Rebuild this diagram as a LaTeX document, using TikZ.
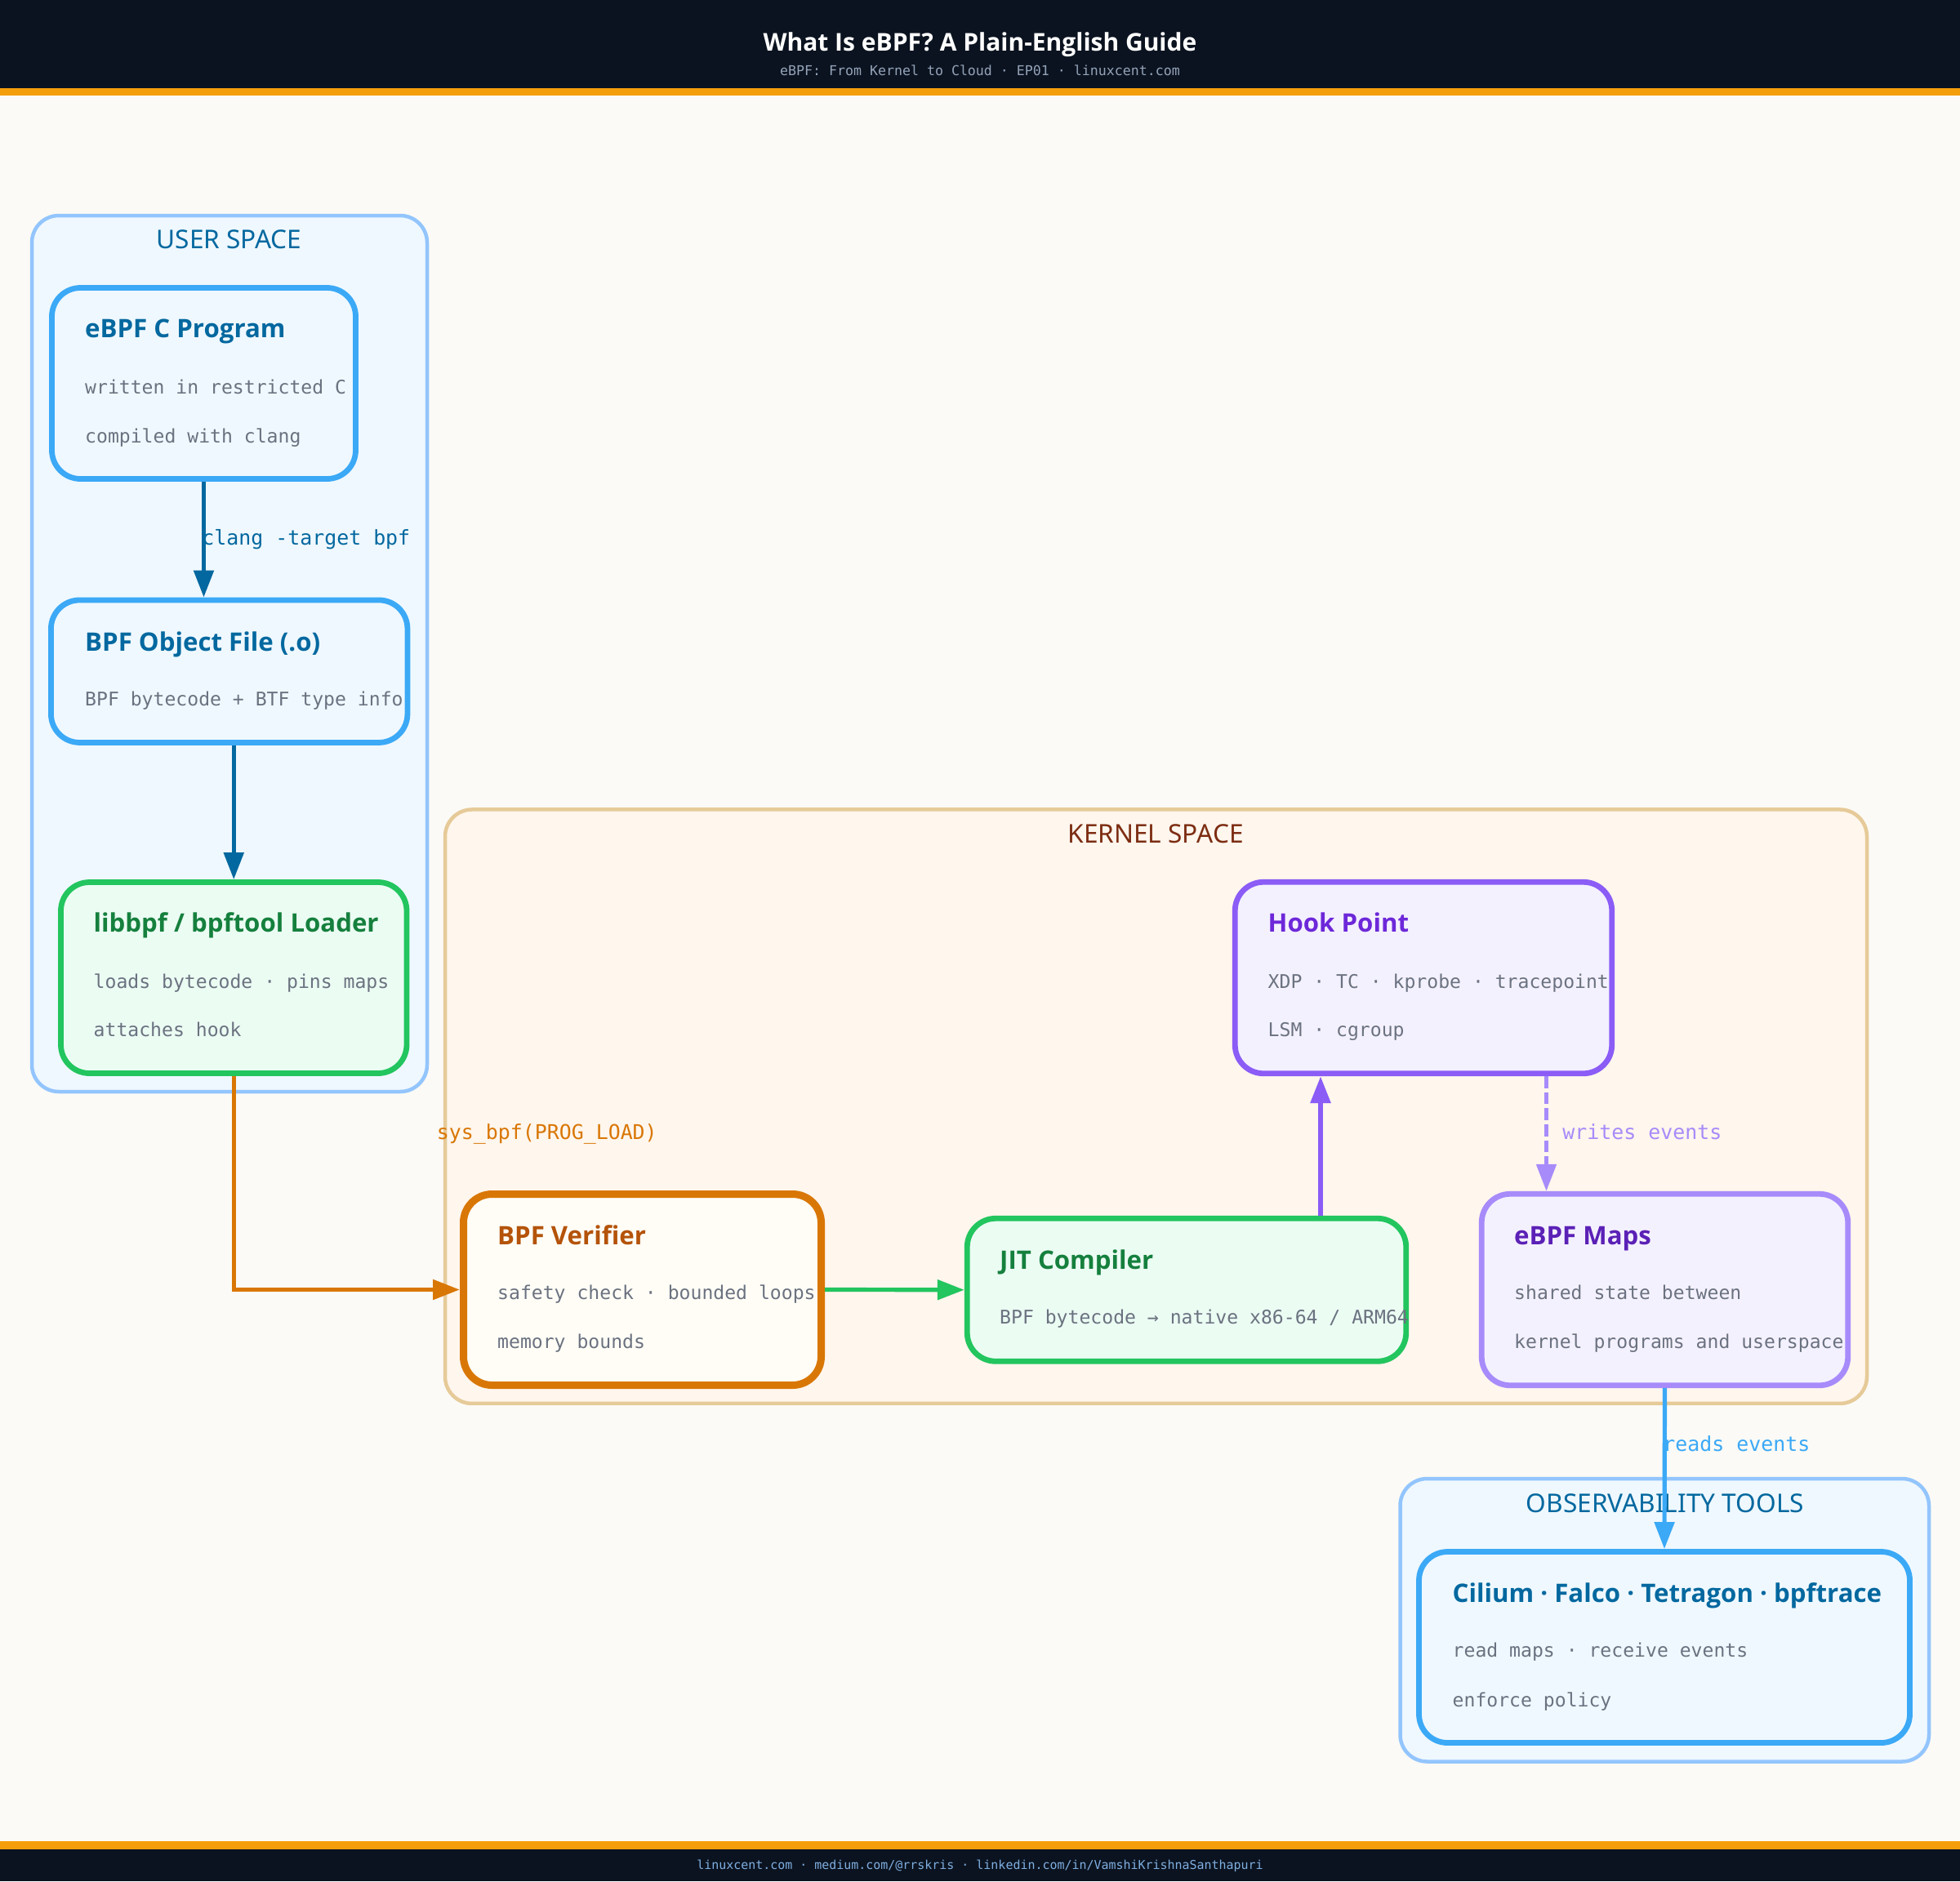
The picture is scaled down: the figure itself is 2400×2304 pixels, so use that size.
\documentclass[tikz,border=0pt]{standalone}
\usepackage{fontspec}
\setmainfont{Noto Sans}
\newfontfamily\boldsans{Open Sans}
\setmonofont{DejaVu Sans Mono}
\usetikzlibrary{arrows.meta,calc}
\definecolor{bgc}{HTML}{FBFAF6}
\definecolor{darkc}{HTML}{0B1320}
\definecolor{amberc}{HTML}{F59E0B}
\definecolor{skyl}{HTML}{93C5FD}
\definecolor{skyf}{HTML}{EFF8FF}
\definecolor{skys}{HTML}{3BA9F6}
\definecolor{skyt}{HTML}{03689F}
\definecolor{grnf}{HTML}{EBFCF3}
\definecolor{grns}{HTML}{22C55E}
\definecolor{grnt}{HTML}{15803D}
\definecolor{orgs}{HTML}{D97706}
\definecolor{orgf}{HTML}{FFFDF6}
\definecolor{orgt}{HTML}{B45309}
\definecolor{kerf}{HTML}{FFF6ED}
\definecolor{kers}{HTML}{E6CA98}
\definecolor{kert}{HTML}{7C2D12}
\definecolor{purs}{HTML}{8B5CF6}
\definecolor{purf}{HTML}{F4F1FF}
\definecolor{purt}{HTML}{6D28D9}
\definecolor{lavs}{HTML}{A78BFA}
\definecolor{lavt}{HTML}{5B21B6}
\definecolor{greyt}{HTML}{6B7280}
\definecolor{subt}{HTML}{94A3B8}
\definecolor{foott}{HTML}{7FAEE0}
\tikzset{
  wh/.style 2 args={minimum width=#1*0.5pt,minimum height=#2*0.5pt},
  boxbase/.style={rectangle,rounded corners=17.5pt,inner sep=0pt},
  cluster/.style={boxbase,line width=2.25pt,rounded corners=16.5pt},
  clusterblue/.style={cluster,draw=skyl,fill=skyf},
  clusterkern/.style={cluster,draw=kers,fill=kerf},
  nblue/.style={boxbase,line width=3.4pt,draw=skys,fill=skyf},
  ngreen/.style={boxbase,line width=3.4pt,draw=grns,fill=grnf},
  norange/.style={boxbase,line width=4.5pt,draw=orgs,fill=orgf},
  npurple/.style={boxbase,line width=3.4pt,draw=purs,fill=purf},
  nlav/.style={boxbase,line width=3.4pt,draw=lavs,fill=purf},
  txt/.style={inner sep=0pt,anchor=base west},
  ctitle/.style={inner sep=0pt,anchor=base,font=\fontsize{15.8pt}{19pt}\selectfont},
  ntitle/.style={txt,xshift=-0.6pt,font=\boldsans\fontsize{15.6pt}{18pt}\selectfont\bfseries},
  nline/.style={txt,xshift=-0.6pt,text=greyt,font=\ttfamily\fontsize{11.55pt}{14pt}\selectfont},
  elabel/.style={txt,font=\ttfamily\fontsize{12.45pt}{15pt}\selectfont},
  conn/.style={line width=2.4pt,-{Triangle[length=16.5pt,width=12pt]}},
}
\begin{document}
\begin{tikzpicture}[x=0.5pt,y=-0.5pt]
\useasboundingbox (0,0) rectangle (2400,2304);
\fill[bgc] (0,0) rectangle (2400,2304);
% header and footer
\fill[darkc] (0,0) rectangle (2400,108);
\fill[amberc] (0,108) rectangle (2400,117);
\fill[darkc] (0,2264.5) rectangle (2400,2304);
\fill[amberc] (0,2255) rectangle (2400,2264.5);
\node[inner sep=0pt,anchor=base,text=white,font=\boldsans\fontsize{15pt}{18pt}\selectfont\bfseries] (title) at (1200,62) {What Is eBPF? A Plain-English Guide};
\node[inner sep=0pt,anchor=base,text=subt,font=\ttfamily\fontsize{8.3pt}{10pt}\selectfont] (subtitle) at (1200,92) {eBPF: From Kernel to Cloud · EP01 · linuxcent.com};
\node[inner sep=0pt,anchor=base,text=foott,font=\ttfamily\fontsize{7.48pt}{9pt}\selectfont] (footer) at (1200,2289) {linuxcent.com · medium.com/@rrskris · linkedin.com/in/VamshiKrishnaSanthapuri};
% clusters
\node[clusterblue,wh={484}{1073}] (user) at (281,800.5) {};
\node[clusterkern,wh={1741}{727.5}] (kernel) at (1415.5,1355.2) {};
\node[clusterblue,wh={647.5}{346.5}] (obs) at (2038.25,1984.25) {};
\node[ctitle,text=skyt] (usert) at (280.5,304) {USER SPACE};
\node[ctitle,text=kert] (kernelt) at (1415,1032) {KERNEL SPACE};
\node[ctitle,text=skyt] (obst) at (2039,1852) {OBSERVABILITY TOOLS};
% edge labels
\node[elabel,text=skyt] (l1) at (247,667) {clang -target bpf};
\node[elabel,text=orgs] (l2) at (534.5,1395) {sys\_bpf(PROG\_LOAD)};
\node[elabel,text=lavs] (l3) at (1913,1395) {writes events};
\node[elabel,text=skys] (l4) at (2036,1777) {reads events};
% boxes
\node[nblue,wh={372}{234}] (cprog) at (249.5,469.5) {};
\node[nblue,wh={436.5}{174.5}] (obj) at (280.7,822.2) {};
\node[ngreen,wh={423.5}{234}] (loader) at (286.25,1197.5) {};
\node[npurple,wh={461.5}{234.5}] (hook) at (1743,1197.5) {};
\node[norange,wh={438}{234}] (verifier) at (786.5,1579.5) {};
\node[ngreen,wh={537.5}{175}] (jit) at (1453,1579.75) {};
\node[nlav,wh={448.5}{234.5}] (maps) at (2038.5,1579.5) {};
\node[nblue,wh={601}{234}] (cilium) at (2038,2017.5) {};
% connectors
\coordinate (jitx) at (1617,0);
\coordinate (dashx) at (1893.5,0);
\draw[conn,draw=skyt,line width=2.6pt] (cprog.south) -- (cprog.south |- obj.north);
\draw[conn,draw=skyt,line width=2.6pt] (loader.north |- obj.south) -- (loader.north);
\draw[conn,draw=orgs,line width=2.7pt] (loader.south) |- (verifier.west);
\draw[conn,draw=grns,line width=2.6pt] (verifier.east) -- (jit.west);
\draw[conn,draw=purs,line width=3pt] (jit.north -| jitx) -- (hook.south -| jitx);
\draw[conn,draw=lavs,dash pattern=on 7.3pt off 2.5pt] (hook.south -| dashx) -- (maps.north -| dashx);
\draw[conn,draw=skys,line width=2.6pt] (maps.south) -- (cilium.north);
% box texts
\node[ntitle,text=skyt] (t1) at (105,413) {eBPF C Program};
\node[nline] (t1a) at (105,482) {written in restricted C};
\node[nline] (t1b) at (105,542) {compiled with clang};
\node[ntitle,text=skyt] (t2) at (105,797) {BPF Object File (.o)};
\node[nline] (t2a) at (105,864) {BPF bytecode + BTF type info};
\node[ntitle,text=grnt] (t3) at (115.5,1141.5) {libbpf / bpftool Loader};
\node[nline] (t3a) at (115.5,1210) {loads bytecode · pins maps};
\node[nline] (t3b) at (115.5,1269) {attaches hook};
\node[ntitle,text=purt] (t4) at (1553.5,1141.5) {Hook Point};
\node[nline] (t4a) at (1553.5,1210) {XDP · TC · kprobe · tracepoint};
\node[nline] (t4b) at (1553.5,1269) {LSM · cgroup};
\node[ntitle,text=orgt] (t5) at (610,1524) {BPF Verifier};
\node[nline] (t5a) at (610,1591.5) {safety check · bounded loops};
\node[nline] (t5b) at (610,1651) {memory bounds};
\node[ntitle,text=grnt] (t6) at (1225,1554.5) {JIT Compiler};
\node[nline] (t6a) at (1225,1621) {BPF bytecode → native x86-64 / ARM64};
\node[ntitle,text=lavt] (t7) at (1855,1524) {eBPF Maps};
\node[nline] (t7a) at (1855,1591.5) {shared state between};
\node[nline] (t7b) at (1855,1651) {kernel programs and userspace};
\node[ntitle,text=skyt] (t8) at (1779.5,1962) {Cilium · Falco · Tetragon · bpftrace};
\node[nline] (t8a) at (1779.5,2029) {read maps · receive events};
\node[nline] (t8b) at (1779.5,2090) {enforce policy};
\end{tikzpicture}
\end{document}
